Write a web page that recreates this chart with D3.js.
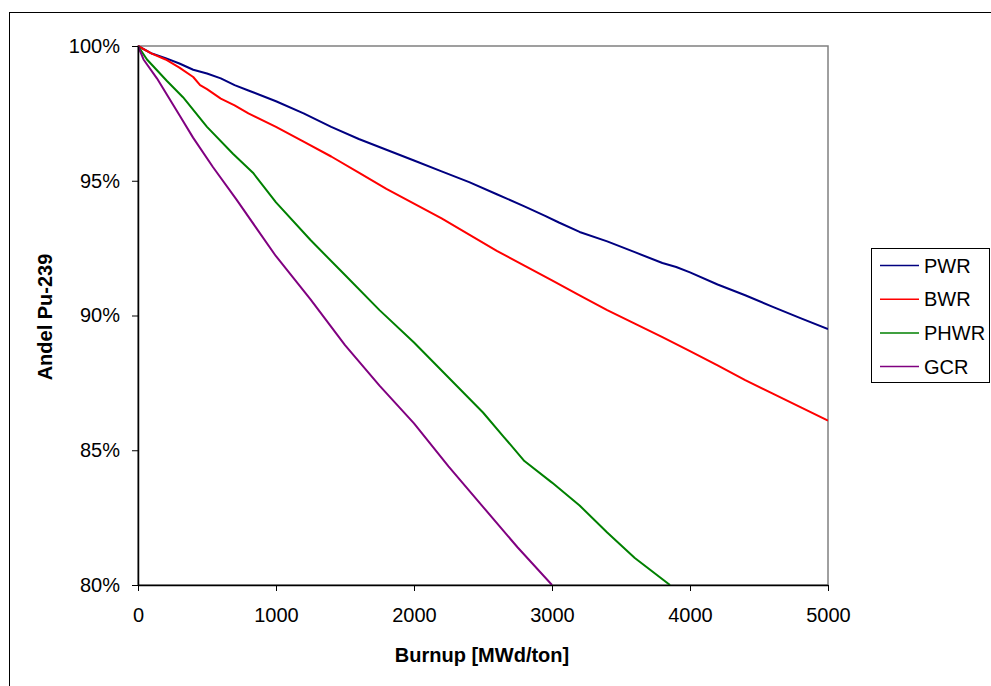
<!DOCTYPE html>
<html>
<head>
<meta charset="utf-8">
<script src="https://cdn.jsdelivr.net/npm/d3@7"></script>
<style>
  body { margin: 0; background: #fff; }
  svg { display: block; font-family: "Liberation Sans", Arial, sans-serif; }
</style>
</head>
<body>
<div id="chart"></div>
<script>
const width = 991;
const height = 686;

// Pu-239 share (%) against burnup (MWd/ton), one pair of arrays per reactor type
const pwrBurnup = [0, 100, 200, 300, 400, 500, 600, 700, 800, 1000, 1200, 1400, 1600, 1800, 2000, 2200, 2400, 2600, 2800, 2950, 3050, 3200, 3400, 3600, 3800, 3900, 4000, 4200, 4400, 4600, 4800, 5000];
const pwrShare = [100, 99.72, 99.55, 99.35, 99.12, 98.98, 98.8, 98.55, 98.35, 97.95, 97.5, 97.0, 96.55, 96.15, 95.75, 95.35, 94.95, 94.5, 94.05, 93.7, 93.45, 93.1, 92.75, 92.35, 91.95, 91.8, 91.6, 91.15, 90.75, 90.32, 89.9, 89.5];

const bwrBurnup = [0, 100, 200, 300, 400, 450, 500, 600, 700, 800, 1000, 1200, 1400, 1600, 1800, 2000, 2200, 2400, 2600, 2800, 3000, 3200, 3400, 3600, 3800, 4000, 4200, 4400, 4600, 4800, 5000];
const bwrShare = [100, 99.72, 99.5, 99.2, 98.85, 98.55, 98.4, 98.05, 97.8, 97.5, 97.0, 96.45, 95.9, 95.3, 94.7, 94.15, 93.6, 93.0, 92.4, 91.85, 91.3, 90.75, 90.2, 89.7, 89.2, 88.68, 88.15, 87.6, 87.1, 86.6, 86.1];

const phwrBurnup = [0, 65, 210, 326, 500, 688, 833, 1000, 1250, 1500, 1750, 2000, 2250, 2500, 2650, 2800, 3000, 3200, 3400, 3600, 3855];
const phwrShare = [100, 99.5, 98.7, 98.1, 97.0, 96.0, 95.3, 94.2, 92.8, 91.5, 90.2, 89.0, 87.7, 86.4, 85.5, 84.6, 83.8, 82.95, 81.95, 81.0, 80];

const gcrBurnup = [0, 40, 137, 304, 399, 544, 714, 850, 1000, 1250, 1500, 1750, 2000, 2250, 2500, 2750, 3000];
const gcrShare = [100, 99.5, 98.8, 97.4, 96.6, 95.5, 94.3, 93.3, 92.2, 90.6, 88.9, 87.4, 86.0, 84.4, 82.9, 81.4, 80];

const seriesNames = ["PWR", "BWR", "PHWR", "GCR"];
const seriesColors = ["#000080", "#ff0000", "#008000", "#800080"];
const xTicks = [0, 1000, 2000, 3000, 4000, 5000];
const yTicks = [80, 85, 90, 95, 100];

const series = [
  { name: seriesNames[0], color: seriesColors[0], x: pwrBurnup, y: pwrShare },
  { name: seriesNames[1], color: seriesColors[1], x: bwrBurnup, y: bwrShare },
  { name: seriesNames[2], color: seriesColors[2], x: phwrBurnup, y: phwrShare },
  { name: seriesNames[3], color: seriesColors[3], x: gcrBurnup, y: gcrShare }
];

const plot = { left: 138, top: 46, right: 828, bottom: 585 };

const svg = d3.select("#chart")
  .append("svg")
  .attr("width", width)
  .attr("height", height);

// outer chart frame
svg.append("rect")
  .attr("x", 9.5).attr("y", 12.5)
  .attr("width", 1000).attr("height", 700)
  .attr("fill", "none")
  .attr("stroke", "#000");

const xScale = d3.scaleLinear().domain([0, 5000]).range([plot.left, plot.right]);
const yScale = d3.scaleLinear().domain([80, 100]).range([plot.bottom, plot.top]);

// plot area border (grey), axes drawn over it
svg.append("rect")
  .attr("x", plot.left).attr("y", plot.top)
  .attr("width", plot.right - plot.left).attr("height", plot.bottom - plot.top)
  .attr("fill", "none")
  .attr("stroke", "#808080")
  .attr("stroke-width", 1.5);

svg.append("clipPath").attr("id", "plot-clip")
  .append("rect")
  .attr("x", plot.left).attr("y", plot.top - 2)
  .attr("width", plot.right - plot.left).attr("height", plot.bottom - plot.top + 2);

const line = d3.line()
  .x((d) => xScale(d[0]))
  .y((d) => yScale(d[1]));

svg.append("g")
  .attr("clip-path", "url(#plot-clip)")
  .selectAll("path")
  .data(series)
  .enter()
  .append("path")
  .attr("d", (s) => line(s.x.map((v, i) => [v, s.y[i]])))
  .attr("fill", "none")
  .attr("stroke", (s) => s.color)
  .attr("stroke-width", 2)
  .attr("stroke-linejoin", "round");

const xAxis = d3.axisBottom(xScale)
  .tickValues(xTicks)
  .tickFormat(d3.format("d"))
  .tickSize(6)
  .tickSizeOuter(0)
  .tickPadding(17);

const yAxis = d3.axisLeft(yScale)
  .tickValues(yTicks)
  .tickFormat((d) => d + "%")
  .tickSize(6)
  .tickSizeOuter(0)
  .tickPadding(12);

const gx = svg.append("g")
  .attr("transform", "translate(0," + plot.bottom + ")")
  .call(xAxis);

const gy = svg.append("g")
  .attr("transform", "translate(" + plot.left + ",0)")
  .call(yAxis);

[gx, gy].forEach((g) => {
  g.select(".domain").attr("stroke", "#000").attr("stroke-width", 1.5);
  g.selectAll(".tick line").attr("stroke", "#000");
  g.selectAll(".tick text")
    .attr("fill", "#000")
    .style("font-size", "20px")
    .style("font-family", "'Liberation Sans', Arial, sans-serif");
});

// axis titles
svg.append("text")
  .attr("x", 482)
  .attr("y", 662)
  .attr("text-anchor", "middle")
  .style("font-size", "20px")
  .style("font-weight", "bold")
  .text("Burnup [MWd/ton]");

svg.append("text")
  .attr("transform", "translate(52,317) rotate(-90)")
  .attr("text-anchor", "middle")
  .style("font-size", "20px")
  .style("font-weight", "bold")
  .text("Andel Pu-239");

// legend
const legend = svg.append("g");
legend.append("rect")
  .attr("x", 871.5).attr("y", 248.5)
  .attr("width", 118).attr("height", 134)
  .attr("fill", "#fff")
  .attr("stroke", "#000");

const entries = legend.selectAll("g.entry")
  .data(series)
  .enter()
  .append("g")
  .attr("class", "entry")
  .attr("transform", (d, i) => "translate(0," + (265.5 + i * 33.7) + ")");

entries.append("line")
  .attr("x1", 880).attr("x2", 919)
  .attr("stroke", (d) => d.color)
  .attr("stroke-width", 1.5);

entries.append("text")
  .attr("x", 924)
  .attr("dy", "0.36em")
  .style("font-size", "20px")
  .text((d) => d.name);
</script>
</body>
</html>
